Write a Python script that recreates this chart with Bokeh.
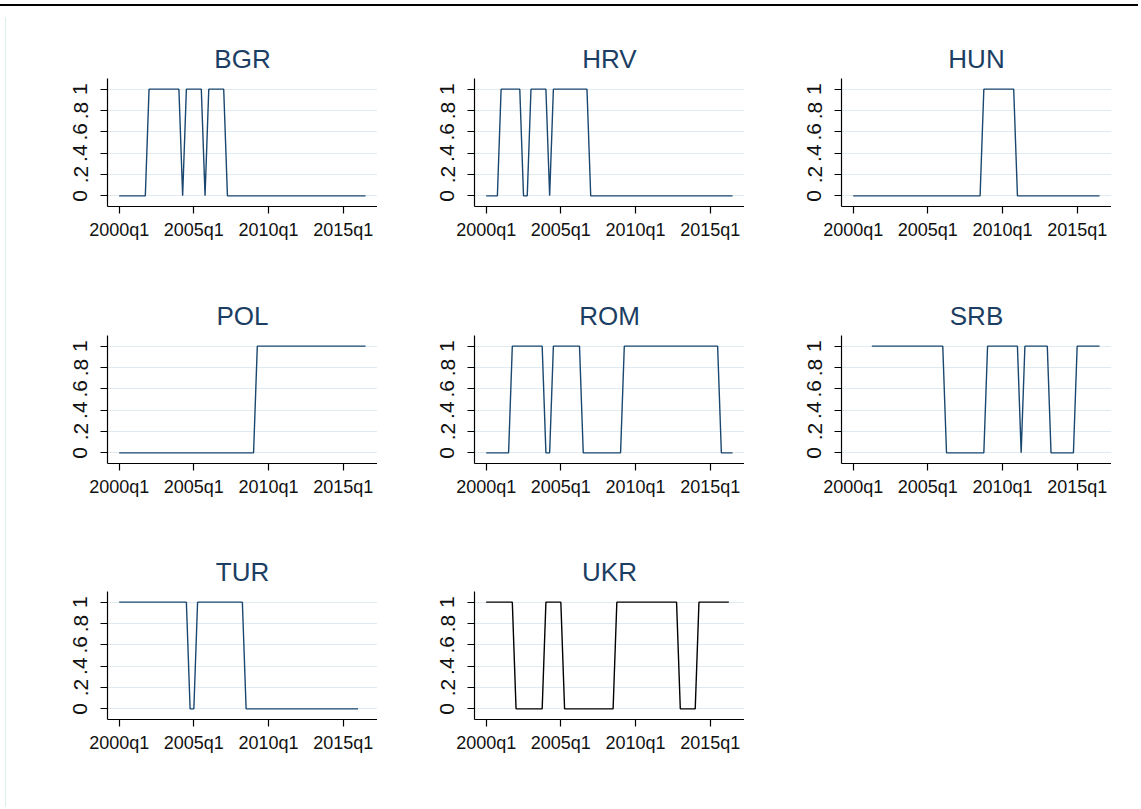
from bokeh.plotting import figure
from bokeh.layouts import column, row
from bokeh.models import Range1d, FixedTicker, Div
from bokeh.embed import file_html
from bokeh.resources import INLINE

NAN = float("nan")

# Stata quarterly dates: 160 = 2000q1
first_quarter = 160
x_ticks = [160, 180, 200, 220]
x_tick_labels = ["2000q1", "2005q1", "2010q1", "2015q1"]
y_ticks = [0, 0.2, 0.4, 0.6, 0.8, 1]
y_tick_labels = ["0", ".2", ".4", ".6", ".8", "1"]

countries = ["BGR", "HRV", "HUN", "POL", "ROM", "SRB", "TUR", "UKR"]

BGR = [0, 0, 0, 0, 0, 0, 0, 0,
       1, 1, 1, 1, 1, 1, 1, 1, 1,
       0,
       1, 1, 1, 1, 1,
       0,
       1, 1, 1, 1, 1,
       0, 0, 0, 0, 0, 0, 0, 0, 0, 0,
       0, 0, 0, 0, 0, 0, 0, 0, 0, 0,
       0, 0, 0, 0, 0, 0, 0, 0, 0, 0,
       0, 0, 0, 0, 0, 0, 0, 0]

HRV = [0, 0, 0, 0,
       1, 1, 1, 1, 1, 1,
       0, 0,
       1, 1, 1, 1, 1,
       0,
       1, 1, 1, 1, 1, 1, 1, 1, 1, 1,
       0, 0, 0, 0, 0, 0, 0, 0, 0, 0,
       0, 0, 0, 0, 0, 0, 0, 0, 0, 0,
       0, 0, 0, 0, 0, 0, 0, 0, 0, 0,
       0, 0, 0, 0, 0, 0, 0, 0, 0]

HUN = [0, 0, 0, 0, 0, 0, 0, 0, 0, 0,
       0, 0, 0, 0, 0, 0, 0, 0, 0, 0,
       0, 0, 0, 0, 0, 0, 0, 0, 0, 0,
       0, 0, 0, 0, 0,
       1, 1, 1, 1, 1, 1, 1, 1, 1,
       0, 0, 0, 0, 0, 0, 0, 0, 0, 0,
       0, 0, 0, 0, 0, 0, 0, 0, 0, 0,
       0, 0, 0]

POL = [0, 0, 0, 0, 0, 0, 0, 0, 0, 0,
       0, 0, 0, 0, 0, 0, 0, 0, 0, 0,
       0, 0, 0, 0, 0, 0, 0, 0, 0, 0,
       0, 0, 0, 0, 0, 0, 0,
       1, 1, 1, 1, 1, 1, 1, 1, 1, 1,
       1, 1, 1, 1, 1, 1, 1, 1, 1, 1,
       1, 1, 1, 1, 1, 1, 1, 1, 1, 1]

ROM = [0, 0, 0, 0, 0, 0, 0,
       1, 1, 1, 1, 1, 1, 1, 1, 1,
       0, 0,
       1, 1, 1, 1, 1, 1, 1, 1,
       0, 0, 0, 0, 0, 0, 0, 0, 0, 0, 0,
       1, 1, 1, 1, 1, 1, 1, 1, 1, 1,
       1, 1, 1, 1, 1, 1, 1, 1, 1, 1,
       1, 1, 1, 1, 1, 1,
       0, 0, 0, 0]

SRB = [NAN, NAN, NAN, NAN, NAN,
       1, 1, 1, 1, 1, 1, 1, 1, 1, 1,
       1, 1, 1, 1, 1, 1, 1, 1, 1, 1,
       0, 0, 0, 0, 0, 0, 0, 0, 0, 0, 0,
       1, 1, 1, 1, 1, 1, 1, 1, 1,
       0,
       1, 1, 1, 1, 1, 1, 1,
       0, 0, 0, 0, 0, 0, 0,
       1, 1, 1, 1, 1, 1, 1]

TUR = [1, 1, 1, 1, 1, 1, 1, 1, 1, 1,
       1, 1, 1, 1, 1, 1, 1, 1, 1,
       0, 0,
       1, 1, 1, 1, 1, 1, 1, 1, 1, 1, 1, 1, 1,
       0, 0, 0, 0, 0, 0, 0, 0, 0, 0,
       0, 0, 0, 0, 0, 0, 0, 0, 0, 0,
       0, 0, 0, 0, 0, 0, 0, 0, 0, 0,
       0]

UKR = [1, 1, 1, 1, 1, 1, 1, 1,
       0, 0, 0, 0, 0, 0, 0, 0,
       1, 1, 1, 1, 1,
       0, 0, 0, 0, 0, 0, 0, 0, 0, 0, 0, 0, 0, 0,
       1, 1, 1, 1, 1, 1, 1, 1, 1, 1,
       1, 1, 1, 1, 1, 1, 1,
       0, 0, 0, 0, 0,
       1, 1, 1, 1, 1, 1, 1, 1, 1]

series = {"BGR": BGR, "HRV": HRV, "HUN": HUN, "POL": POL,
          "ROM": ROM, "SRB": SRB, "TUR": TUR, "UKR": UKR}
line_colors = {"UKR": "#000000"}
DEFAULT_LINE = "#1a476f"
TITLE_COLOR = "#1c3e63"
GRID_COLOR = "#e0ebf1"
FONT = "Liberation Sans"


def make_panel(name, left, height, top=68, bottom=59, frame_w=270):
    vals = series[name]
    xs = list(range(first_quarter, first_quarter + len(vals)))
    p = figure(width=left + frame_w, height=height,
               x_range=Range1d(156.87, 229.2), y_range=Range1d(-0.1, 1.1),
               output_backend="svg", toolbar_location=None,
               min_border_left=left, min_border_right=0,
               min_border_top=top, min_border_bottom=bottom)
    p.line(xs, vals, line_color=line_colors.get(name, DEFAULT_LINE), line_width=1.4)

    p.title.text = name
    p.title.align = "center"
    p.title.text_font = FONT
    p.title.text_font_size = "26px"
    p.title.text_font_style = "normal"
    p.title.text_color = TITLE_COLOR
    p.title.standoff = 9

    p.outline_line_color = None
    p.background_fill_color = "white"
    p.border_fill_color = "white"
    p.xgrid.visible = False
    p.ygrid.ticker = FixedTicker(ticks=y_ticks)
    p.ygrid.grid_line_color = GRID_COLOR
    p.ygrid.grid_line_width = 1.2

    p.xaxis.ticker = FixedTicker(ticks=x_ticks)
    p.xaxis.major_label_overrides = dict(zip(x_ticks, x_tick_labels))
    p.yaxis.ticker = FixedTicker(ticks=y_ticks)
    p.yaxis.major_label_overrides = dict(zip(y_ticks, y_tick_labels))
    p.yaxis.major_label_orientation = "vertical"
    for ax in (p.xaxis, p.yaxis):
        ax.axis_line_color = "black"
        ax.axis_line_width = 1.2
        ax.major_tick_line_color = "black"
        ax.major_tick_line_width = 1.2
        ax.major_tick_out = 7
        ax.major_tick_in = 0
        ax.minor_tick_line_color = None
        ax.major_label_text_font = FONT
        ax.major_label_text_font_size = "18px"
        ax.major_label_text_color = "#111111"
    p.yaxis.major_label_text_font_size = "21px"
    p.xaxis.major_label_standoff = 6
    p.yaxis.major_label_standoff = 13
    return p


lefts = [96, 97, 97]
row_heights = [255, 256, 256]
row_tops = [66, 68, 68]
rows = []
for r in range(3):
    figs = []
    for c in range(3):
        i = r * 3 + c
        if i >= len(countries):
            break
        figs.append(make_panel(countries[i], lefts[c], row_heights[r], top=row_tops[r],
                               bottom=row_heights[r] - row_tops[r] - 128))
    rows.append(row(*figs, spacing=0))

grid = column(*rows, spacing=0)
top_line = Div(text="", width=1141, height=2,
               styles={"background-color": "black", "position": "relative",
                       "top": "-1px", "left": "-8px"})
left_line = Div(text="", width=1, height=790, styles={"background-color": "#dcefef"})
layout = column(top_line, row(left_line, grid, spacing=0), spacing=0)

open("out.html", "w").write(file_html(layout, INLINE))
